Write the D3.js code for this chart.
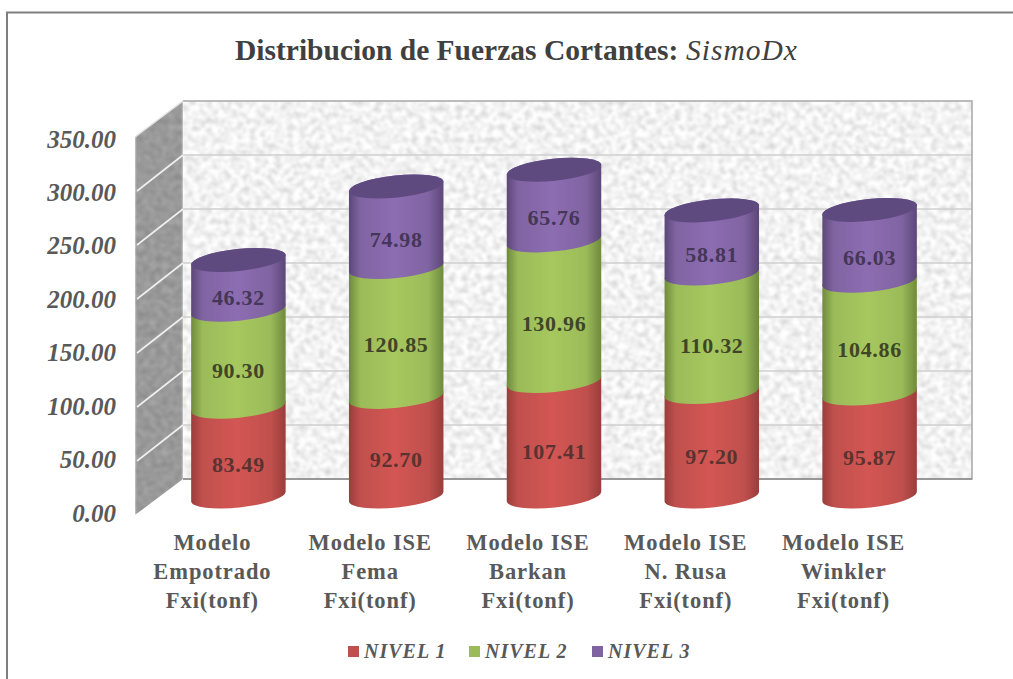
<!DOCTYPE html>
<html>
<head>
<meta charset="utf-8">
<script src="https://cdn.jsdelivr.net/npm/d3@7"></script>
<style>
  html, body { margin: 0; padding: 0; background: #fff; overflow: hidden; }
  text { font-family: "Liberation Serif", serif; }
</style>
</head>
<body>
<div id="chart"></div>
<script>
// values
const categories = [
  ["Modelo", "Empotrado", "Fxi(tonf)"],
  ["Modelo ISE", "Fema", "Fxi(tonf)"],
  ["Modelo ISE", "Barkan", "Fxi(tonf)"],
  ["Modelo ISE", "N. Rusa", "Fxi(tonf)"],
  ["Modelo ISE", "Winkler", "Fxi(tonf)"]
];
const seriesNames = ["NIVEL 1", "NIVEL 2", "NIVEL 3"];
const nivel1 = [83.49, 92.70, 107.41, 97.20, 95.87];
const nivel2 = [90.30, 120.85, 130.96, 110.32, 104.86];
const nivel3 = [46.32, 74.98, 65.76, 58.81, 66.03];
const yTicks = [0, 50, 100, 150, 200, 250, 300, 350];

const seriesColors = ["#c0504d", "#9bbb59", "#8064a2"];
const seriesLight = ["#d35653", "#a6c85e", "#8d6db2"];
const seriesDark = ["#9a3d3b", "#6f8a3c", "#5c4778"];
const labelColors = ["#5a3331", "#3f4628", "#463658"];
const topColor = "#5f4a80";

const width = 1013, height = 679;

const svg = d3.select("#chart").append("svg")
  .attr("width", width)
  .attr("height", height);

const defs = svg.append("defs");

// stone texture for the walls
function stone(id, baseFreq, slope, intercept) {
  const f = defs.append("filter").attr("id", id)
    .attr("x", 0).attr("y", 0).attr("width", 1).attr("height", 1)
    .attr("color-interpolation-filters", "sRGB");
  f.append("feTurbulence")
    .attr("type", "fractalNoise")
    .attr("baseFrequency", baseFreq)
    .attr("numOctaves", 3)
    .attr("seed", 7)
    .attr("result", "n");
  f.append("feColorMatrix").attr("in", "n").attr("type", "matrix")
    .attr("values", `${slope} 0 0 0 ${intercept}  ${slope} 0 0 0 ${intercept}  ${slope} 0 0 0 ${intercept}  0 0 0 0 1`)
    .attr("result", "g");
  f.append("feGaussianBlur").attr("in", "g").attr("stdDeviation", 0.8);
}
stone("wallBack", 0.16, 0.32, 0.79);
stone("wallSide", 0.16, 0.18, 0.51);

// cylinder shading, one gradient per series
seriesColors.forEach((c, i) => {
  const g = defs.append("linearGradient").attr("id", "cyl" + i)
    .attr("x1", 0).attr("x2", 1).attr("y1", 0).attr("y2", 0);
  g.append("stop").attr("offset", "0%").attr("stop-color", seriesDark[i]);
  g.append("stop").attr("offset", "12%").attr("stop-color", c);
  g.append("stop").attr("offset", "48%").attr("stop-color", seriesLight[i]);
  g.append("stop").attr("offset", "84%").attr("stop-color", c);
  g.append("stop").attr("offset", "100%").attr("stop-color", seriesDark[i]);
});

// chart frame
svg.append("rect")
  .attr("x", 7).attr("y", 12.5)
  .attr("width", 1012).attr("height", 680)
  .attr("fill", "#fff")
  .attr("stroke", "#7f7f7f")
  .attr("stroke-width", 2);

// title
const title = svg.append("text")
  .attr("x", 235).attr("y", 60)
  .attr("font-size", 29.5)
  .attr("font-weight", "bold")
  .attr("fill", "#404040");
title.append("tspan").text("Distribucion de Fuerzas Cortantes: ");
title.append("tspan").attr("x", 686).attr("font-style", "italic").attr("font-weight", "normal")
  .attr("letter-spacing", 1).text("SismoDx");

// y scales: back wall, front edge of side wall, tick labels and the bars
const yBack = d3.scaleLinear().domain([0, 350]).range([479, 101]);
const yFront = d3.scaleLinear().domain([0, 350]).range([515, 137]);
const yLabel = d3.scaleLinear().domain([0, 350]).range([513, 139]);
const yBar = d3.scaleLinear().domain([0, 350]).range([496.5, 120.5]);
const x = d3.scaleBand().domain(d3.range(categories.length)).range([159.5, 948.5]);

const backLeft = 183, backRight = 972, sideLeft = 135;

// walls
svg.append("rect")
  .attr("x", backLeft).attr("y", yBack(350))
  .attr("width", backRight - backLeft).attr("height", yBack(0) - yBack(350))
  .attr("fill", "#e6e6e6")
  .attr("filter", "url(#wallBack)");

const sideClip = defs.append("clipPath").attr("id", "sideClip");
sideClip.append("path")
  .attr("d", d3.line()([[sideLeft, yFront(350)], [backLeft, yBack(350)], [backLeft, yBack(0)], [sideLeft, yFront(0)]]) + "Z");
svg.append("g").attr("clip-path", "url(#sideClip)")
  .append("rect")
  .attr("x", sideLeft).attr("y", yBack(350))
  .attr("width", backLeft - sideLeft).attr("height", yFront(0) - yBack(350))
  .attr("fill", "#999")
  .attr("filter", "url(#wallSide)");

// grid lines on both walls
svg.append("g").selectAll("line")
  .data(yTicks.filter(d => d > 0 && d < 350))
  .join("line")
  .attr("x1", backLeft).attr("x2", backRight)
  .attr("y1", d => yBack(d)).attr("y2", d => yBack(d))
  .attr("stroke", "#cfcfcf").attr("stroke-width", 1.5);
svg.append("g").selectAll("line")
  .data(yTicks.filter(d => d < 350 && d > 0))
  .join("line")
  .attr("x1", sideLeft + 2).attr("x2", backLeft)
  .attr("y1", d => yFront(d)).attr("y2", d => yBack(d))
  .attr("stroke", "#f0f0f0").attr("stroke-width", 1.6);

// wall edges
svg.append("path")
  .attr("d", `M${backLeft},${yBack(350)}H${backRight}V${yBack(0)}H${backLeft}`)
  .attr("fill", "none").attr("stroke", "#a6a6a6").attr("stroke-width", 1.5);
svg.append("line")
  .attr("x1", backLeft).attr("x2", backRight)
  .attr("y1", yBack(0)).attr("y2", yBack(0))
  .attr("stroke", "#8c8c8c").attr("stroke-width", 1.5);
svg.append("line")
  .attr("x1", sideLeft).attr("x2", backLeft)
  .attr("y1", yFront(350)).attr("y2", yBack(350))
  .attr("stroke", "#e2e2e2").attr("stroke-width", 1.5);

// y axis
const yAxis = svg.append("g")
  .attr("transform", "translate(116,0)")
  .call(d3.axisLeft(yLabel).tickValues(yTicks).tickSize(0).tickPadding(0).tickFormat(d3.format(".2f")));
yAxis.select(".domain").remove();
yAxis.selectAll("text")
  .attr("font-family", "Liberation Serif")
  .attr("font-size", 25)
  .attr("font-weight", "bold")
  .attr("font-style", "italic")
  .attr("fill", "#595959");

// cylinders
const rx = 47.5, ry = 11, tilt = -6;
const dx = rx * Math.cos(tilt * Math.PI / 180);
const dy = rx * Math.sin(tilt * Math.PI / 180);

const levels = [nivel1, nivel2, nivel3];
const stacked = categories.map((c, i) => {
  let base = 0;
  return levels.map((vals, s) => {
    const seg = { cat: i, s, v: vals[i], y0: base, y1: base + vals[i] };
    base = seg.y1;
    return seg;
  });
});

// side of a cylinder: lower arc at y0, upper arc at y1
function segPath(cx, yb, yt) {
  return `M${cx - dx},${yt - dy}` +
    `L${cx - dx},${yb - dy}` +
    `A${rx},${ry} ${tilt} 0 0 ${cx + dx},${yb + dy}` +
    `L${cx + dx},${yt + dy}` +
    `A${rx},${ry} ${tilt} 0 0 ${cx - dx},${yt - dy}Z`;
}

const bars = svg.append("g").selectAll("g")
  .data(stacked)
  .join("g");

bars.selectAll("path.seg")
  .data(d => d)
  .join("path")
  .attr("class", "seg")
  .attr("d", d => segPath(x(d.cat) + x.bandwidth() / 2, yBar(d.y0), yBar(d.y1)))
  .attr("fill", d => `url(#cyl${d.s})`);

bars.append("ellipse")
  .datum(d => d[d.length - 1])
  .attr("rx", rx).attr("ry", ry)
  .attr("transform", d => `translate(${x(d.cat) + x.bandwidth() / 2},${yBar(d.y1)}) rotate(${tilt})`)
  .attr("fill", topColor);

// data labels
bars.selectAll("text")
  .data(d => d)
  .join("text")
  .attr("x", d => x(d.cat) + x.bandwidth() / 2)
  .attr("y", d => yBar((d.y0 + d.y1) / 2) + 20)
  .attr("text-anchor", "middle")
  .attr("font-size", 22)
  .attr("letter-spacing", 0.7)
  .attr("font-weight", "bold")
  .attr("fill", d => labelColors[d.s])
  .text(d => d.v.toFixed(2));

// category labels
const catLabels = svg.append("g").selectAll("text")
  .data(categories)
  .join("text")
  .attr("text-anchor", "middle")
  .attr("font-size", 22.5)
  .attr("letter-spacing", 0.9)
  .attr("font-weight", "bold")
  .attr("fill", "#595959");
catLabels.selectAll("tspan")
  .data((d, i) => d.map((line, k) => ({ line, k, i })))
  .join("tspan")
  .attr("x", d => x(d.i) + x.bandwidth() / 2 - 26)
  .attr("y", d => 550 + d.k * 29)
  .text(d => d.line);

// legend
const legendX = [348, 469, 592];
const legend = svg.append("g").selectAll("g")
  .data(seriesNames)
  .join("g")
  .attr("transform", (d, i) => `translate(${legendX[i]},646)`);
legend.append("rect")
  .attr("width", 11).attr("height", 11)
  .attr("fill", (d, i) => seriesColors[i]);
legend.append("text")
  .attr("x", 16).attr("y", 12)
  .attr("font-size", 20)
  .attr("font-style", "italic")
  .attr("font-weight", "bold")
  .attr("letter-spacing", 1)
  .attr("fill", "#595959")
  .text(d => d);
</script>
</body>
</html>
